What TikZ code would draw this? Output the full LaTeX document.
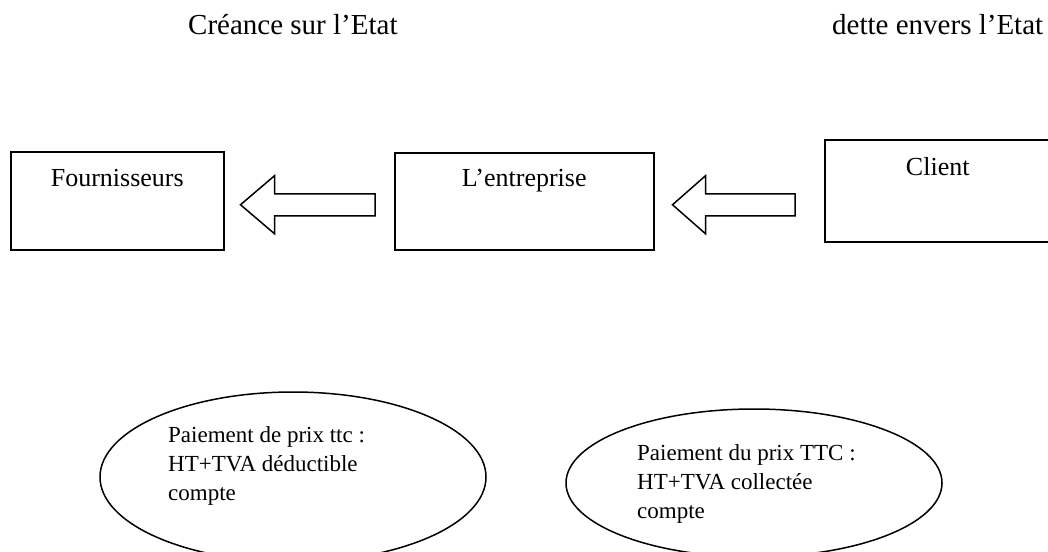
\documentclass[tikz,border=0pt]{standalone}
\usepackage{fontspec}
\setmainfont{Liberation Serif}
\usetikzlibrary{shapes.geometric,calc}

\begin{document}
\begin{tikzpicture}[x=1pt,y=-1pt,
        box/.style={draw,line width=1.5pt,rectangle,inner sep=0pt,anchor=north west,font=\fontsize{26}{31}\selectfont},
        bulle/.style={draw,line width=1.5pt,ellipse,inner sep=0pt},
        titre/.style={anchor=base west,inner sep=0pt,font=\fontsize{29}{35}\selectfont},
        texte/.style={anchor=base west,inner sep=0pt,align=left,font=\fontsize{23}{29}\selectfont},
        fleche/.style={draw,line width=1.5pt,line join=miter}]
        \useasboundingbox (0,0) rectangle (1048,551);
        \node[titre](creance) at (188,35) {Créance sur l’Etat};
        \node[titre](dette) at (832,35) {dette envers l’Etat};
        \node[box,minimum width=213pt,text height=35pt,text depth=63pt](fourn) at (10,151) {Fournisseurs};
        \node[box,minimum width=259pt,text height=34pt,text depth=63pt](ent) at (394,152) {L’entreprise};
        \node[box,minimum width=226pt,text height=36pt,text depth=66pt](client) at (824,139) {Client};
        \coordinate(t1) at ($(fourn.east)+(16,4)$);
        \coordinate(q1) at ($(ent.west)+(-19,3.5)$);
        \coordinate(t2) at ($(ent.east)+(18,3.5)$);
        \coordinate(q2) at ($(client.west)+(-29,14)$);
        \draw[fleche] (t1) -- ++(34,-29) -- ++(0,18) -- ($(q1)+(0,-11)$) -- ($(q1)+(0,11)$) -- ($(t1)+(34,11)$) -- ++(0,18) -- cycle;
        \draw[fleche] (t2) -- ++(33,-29) -- ++(0,18) -- ($(q2)+(0,-11)$) -- ($(q2)+(0,11)$) -- ($(t2)+(33,11)$) -- ++(0,18) -- cycle;
        \node[bulle,minimum width=386pt,minimum height=170pt](deduc) at (293,477) {};
        \node[texte](tdeduc) at (168,500) {Paiement de prix ttc :\\HT+TVA déductible\\compte};
        \node[bulle,minimum width=376pt,minimum height=148pt](collec) at (754,483) {};
        \node[texte](tcollec) at (637,518) {Paiement du prix TTC :\\HT+TVA collectée\\compte};
\end{tikzpicture}
\end{document}
